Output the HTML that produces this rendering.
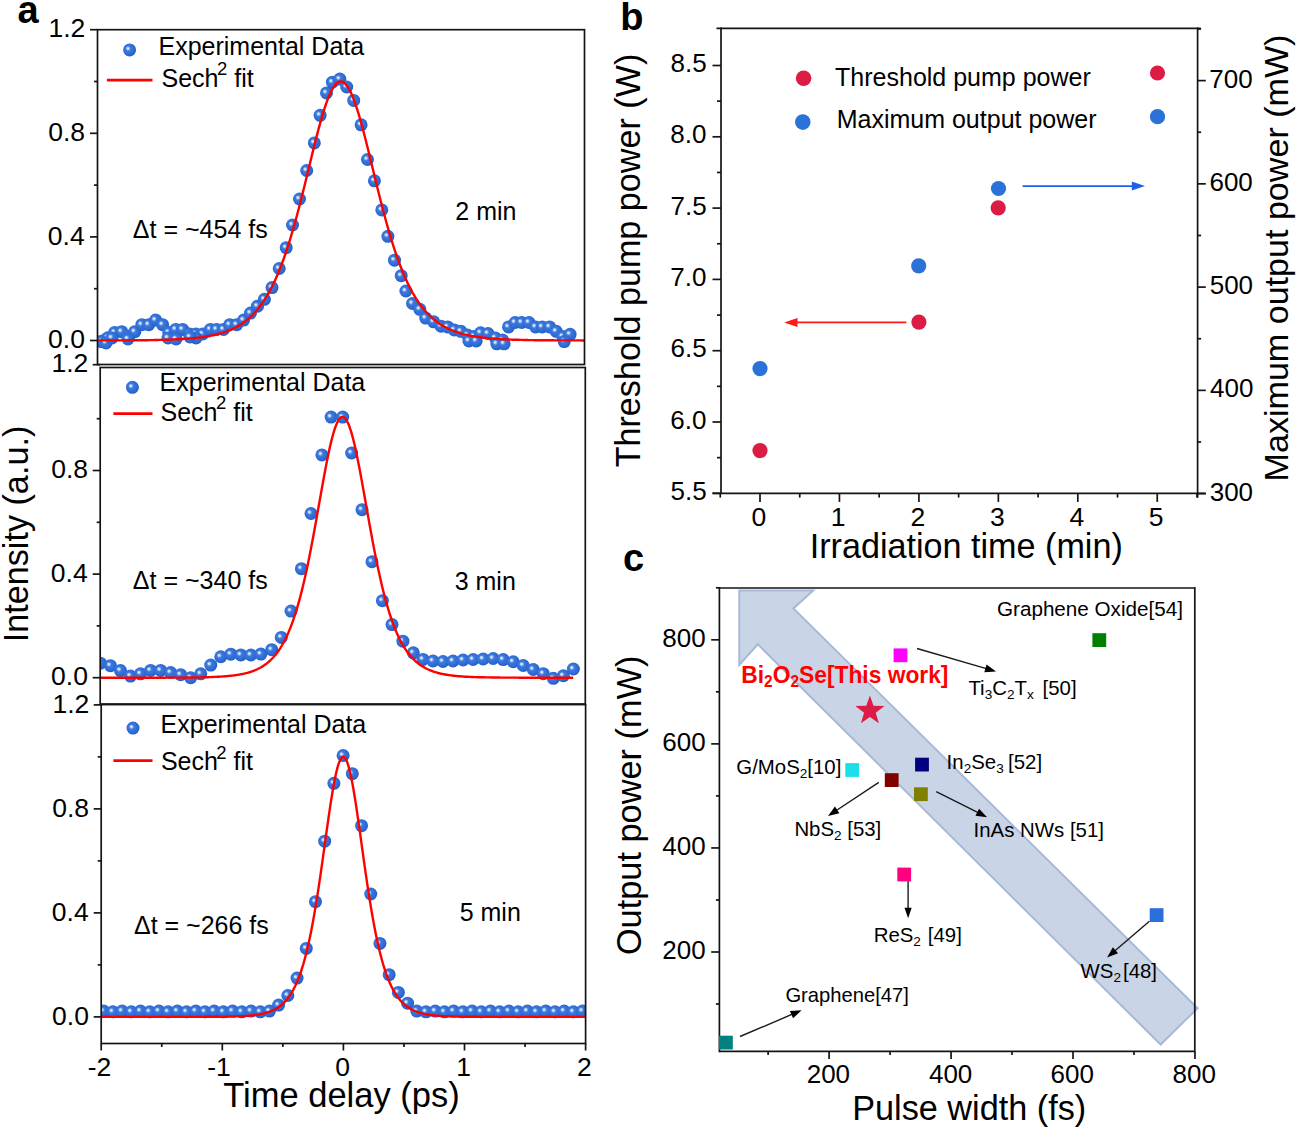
<!DOCTYPE html>
<html><head><meta charset="utf-8"><style>
html,body{margin:0;padding:0;background:#fff;width:1296px;height:1127px;overflow:hidden;}
svg{display:block;}
text{font-family:"Liberation Sans", sans-serif;}
</style></head><body>
<svg width="1296" height="1127" viewBox="0 0 1296 1127" font-family='"Liberation Sans", sans-serif'>
<defs><radialGradient id="bg" cx="0.45" cy="0.45" r="0.6" fx="0.36" fy="0.38"><stop offset="0" stop-color="#f4f8ff"/><stop offset="0.12" stop-color="#c4d8f6"/><stop offset="0.32" stop-color="#3d7ade"/><stop offset="0.75" stop-color="#2b68d2"/><stop offset="1" stop-color="#1f58c4"/></radialGradient><g id="ball"><circle cx="0" cy="0" r="6.5" fill="url(#bg)"/></g></defs>
<rect width="1296" height="1127" fill="#fff"/>
<clipPath id="clipa0"><rect x="97.5" y="29.7" width="487.0" height="334.8"/></clipPath>
<g clip-path="url(#clipa0)">
<use href="#ball" x="104.00" y="340.50"/>
<use href="#ball" x="107.80" y="337.80"/>
<use href="#ball" x="114.70" y="332.40"/>
<use href="#ball" x="121.70" y="331.70"/>
<use href="#ball" x="128.60" y="336.30"/>
<use href="#ball" x="134.80" y="331.70"/>
<use href="#ball" x="141.80" y="324.70"/>
<use href="#ball" x="148.70" y="324.70"/>
<use href="#ball" x="155.60" y="320.10"/>
<use href="#ball" x="162.60" y="324.70"/>
<use href="#ball" x="168.80" y="332.40"/>
<use href="#ball" x="175.70" y="329.40"/>
<use href="#ball" x="182.60" y="329.40"/>
<use href="#ball" x="189.60" y="334.00"/>
<use href="#ball" x="195.80" y="334.00"/>
<use href="#ball" x="202.70" y="334.00"/>
<use href="#ball" x="210.40" y="329.40"/>
<use href="#ball" x="216.60" y="329.40"/>
<use href="#ball" x="223.50" y="329.40"/>
<use href="#ball" x="229.70" y="324.70"/>
<use href="#ball" x="236.70" y="324.70"/>
<use href="#ball" x="243.60" y="320.10"/>
<use href="#ball" x="250.50" y="313.10"/>
<use href="#ball" x="257.50" y="306.20"/>
<use href="#ball" x="264.40" y="299.30"/>
<use href="#ball" x="272.00" y="287.60"/>
<use href="#ball" x="279.20" y="268.50"/>
<use href="#ball" x="286.20" y="247.70"/>
<use href="#ball" x="292.50" y="225.00"/>
<use href="#ball" x="299.50" y="199.00"/>
<use href="#ball" x="306.70" y="170.50"/>
<use href="#ball" x="314.30" y="142.90"/>
<use href="#ball" x="320.10" y="115.30"/>
<use href="#ball" x="326.50" y="92.90"/>
<use href="#ball" x="332.40" y="82.20"/>
<use href="#ball" x="339.80" y="79.10"/>
<use href="#ball" x="346.70" y="87.00"/>
<use href="#ball" x="353.70" y="100.40"/>
<use href="#ball" x="361.10" y="124.80"/>
<use href="#ball" x="367.50" y="159.50"/>
<use href="#ball" x="374.40" y="180.80"/>
<use href="#ball" x="381.80" y="209.90"/>
<use href="#ball" x="387.90" y="236.30"/>
<use href="#ball" x="394.50" y="260.20"/>
<use href="#ball" x="401.20" y="275.70"/>
<use href="#ball" x="405.90" y="291.00"/>
<use href="#ball" x="412.50" y="303.50"/>
<use href="#ball" x="419.80" y="309.30"/>
<use href="#ball" x="425.70" y="318.10"/>
<use href="#ball" x="433.70" y="321.80"/>
<use href="#ball" x="441.10" y="326.20"/>
<use href="#ball" x="447.70" y="326.90"/>
<use href="#ball" x="454.30" y="329.90"/>
<use href="#ball" x="460.90" y="331.30"/>
<use href="#ball" x="467.40" y="335.00"/>
<use href="#ball" x="474.00" y="336.50"/>
<use href="#ball" x="480.60" y="332.80"/>
<use href="#ball" x="488.00" y="333.50"/>
<use href="#ball" x="495.30" y="337.90"/>
<use href="#ball" x="502.60" y="340.10"/>
<use href="#ball" x="508.50" y="326.90"/>
<use href="#ball" x="515.10" y="322.50"/>
<use href="#ball" x="521.70" y="322.50"/>
<use href="#ball" x="529.00" y="322.50"/>
<use href="#ball" x="535.60" y="326.90"/>
<use href="#ball" x="542.20" y="326.90"/>
<use href="#ball" x="549.60" y="326.90"/>
<use href="#ball" x="556.20" y="331.30"/>
<use href="#ball" x="562.80" y="336.50"/>
<use href="#ball" x="570.10" y="334.30"/>
<use href="#ball" x="101.00" y="341.50"/>
<use href="#ball" x="106.00" y="343.00"/>
<use href="#ball" x="128.00" y="339.00"/>
<use href="#ball" x="168.00" y="338.00"/>
<use href="#ball" x="176.00" y="339.00"/>
<use href="#ball" x="196.00" y="338.00"/>
<use href="#ball" x="468.90" y="340.90"/>
<use href="#ball" x="476.20" y="340.90"/>
<use href="#ball" x="496.80" y="343.80"/>
<use href="#ball" x="504.10" y="343.80"/>
<use href="#ball" x="564.20" y="341.60"/>
<use href="#ball" x="112.00" y="338.00"/>
<use href="#ball" x="190.00" y="337.00"/>
<path d="M97.5,340.5 L98.5,340.5 L99.5,340.5 L100.5,340.5 L101.5,340.4 L102.5,340.4 L103.5,340.4 L104.5,340.4 L105.5,340.4 L106.5,340.4 L107.5,340.4 L108.5,340.4 L109.5,340.4 L110.5,340.4 L111.5,340.4 L112.5,340.4 L113.5,340.4 L114.5,340.4 L115.5,340.4 L116.5,340.4 L117.5,340.4 L118.5,340.4 L119.5,340.4 L120.5,340.4 L121.5,340.4 L122.5,340.4 L123.5,340.4 L124.5,340.4 L125.5,340.4 L126.5,340.4 L127.5,340.3 L128.5,340.3 L129.5,340.3 L130.5,340.3 L131.5,340.3 L132.5,340.3 L133.5,340.3 L134.5,340.3 L135.5,340.3 L136.5,340.3 L137.5,340.3 L138.5,340.3 L139.5,340.2 L140.5,340.2 L141.5,340.2 L142.5,340.2 L143.5,340.2 L144.5,340.2 L145.5,340.2 L146.5,340.2 L147.5,340.2 L148.5,340.1 L149.5,340.1 L150.5,340.1 L151.5,340.1 L152.5,340.1 L153.5,340.1 L154.5,340.0 L155.5,340.0 L156.5,340.0 L157.5,340.0 L158.5,339.9 L159.5,339.9 L160.5,339.9 L161.5,339.9 L162.5,339.9 L163.5,339.8 L164.5,339.8 L165.5,339.8 L166.5,339.7 L167.5,339.7 L168.5,339.7 L169.5,339.6 L170.5,339.6 L171.5,339.6 L172.5,339.5 L173.5,339.5 L174.5,339.4 L175.5,339.4 L176.5,339.3 L177.5,339.3 L178.5,339.2 L179.5,339.2 L180.5,339.1 L181.5,339.1 L182.5,339.0 L183.5,339.0 L184.5,338.9 L185.5,338.8 L186.5,338.8 L187.5,338.7 L188.5,338.6 L189.5,338.5 L190.5,338.4 L191.5,338.4 L192.5,338.3 L193.5,338.2 L194.5,338.1 L195.5,338.0 L196.5,337.9 L197.5,337.7 L198.5,337.6 L199.5,337.5 L200.5,337.4 L201.5,337.3 L202.5,337.1 L203.5,337.0 L204.5,336.8 L205.5,336.7 L206.5,336.5 L207.5,336.3 L208.5,336.2 L209.5,336.0 L210.5,335.8 L211.5,335.6 L212.5,335.4 L213.5,335.2 L214.5,335.0 L215.5,334.7 L216.5,334.5 L217.5,334.2 L218.5,334.0 L219.5,333.7 L220.5,333.4 L221.5,333.1 L222.5,332.8 L223.5,332.5 L224.5,332.2 L225.5,331.8 L226.5,331.5 L227.5,331.1 L228.5,330.7 L229.5,330.3 L230.5,329.9 L231.5,329.4 L232.5,329.0 L233.5,328.5 L234.5,328.0 L235.5,327.5 L236.5,327.0 L237.5,326.4 L238.5,325.8 L239.5,325.2 L240.5,324.6 L241.5,324.0 L242.5,323.3 L243.5,322.6 L244.5,321.9 L245.5,321.1 L246.5,320.3 L247.5,319.5 L248.5,318.6 L249.5,317.8 L250.5,316.8 L251.5,315.9 L252.5,314.9 L253.5,313.9 L254.5,312.8 L255.5,311.7 L256.5,310.6 L257.5,309.4 L258.5,308.2 L259.5,306.9 L260.5,305.6 L261.5,304.2 L262.5,302.8 L263.5,301.3 L264.5,299.8 L265.5,298.2 L266.5,296.6 L267.5,294.9 L268.5,293.2 L269.5,291.4 L270.5,289.5 L271.5,287.6 L272.5,285.6 L273.5,283.5 L274.5,281.4 L275.5,279.3 L276.5,277.0 L277.5,274.7 L278.5,272.3 L279.5,269.8 L280.5,267.3 L281.5,264.7 L282.5,262.0 L283.5,259.3 L284.5,256.5 L285.5,253.6 L286.5,250.6 L287.5,247.6 L288.5,244.4 L289.5,241.3 L290.5,238.0 L291.5,234.7 L292.5,231.3 L293.5,227.8 L294.5,224.3 L295.5,220.7 L296.5,217.0 L297.5,213.3 L298.5,209.5 L299.5,205.6 L300.5,201.8 L301.5,197.8 L302.5,193.8 L303.5,189.8 L304.5,185.8 L305.5,181.7 L306.5,177.6 L307.5,173.5 L308.5,169.4 L309.5,165.2 L310.5,161.1 L311.5,157.0 L312.5,152.9 L313.5,148.9 L314.5,144.8 L315.5,140.9 L316.5,136.9 L317.5,133.1 L318.5,129.3 L319.5,125.6 L320.5,121.9 L321.5,118.4 L322.5,115.0 L323.5,111.7 L324.5,108.5 L325.5,105.5 L326.5,102.6 L327.5,99.9 L328.5,97.3 L329.5,94.9 L330.5,92.7 L331.5,90.7 L332.5,88.8 L333.5,87.2 L334.5,85.7 L335.5,84.5 L336.5,83.4 L337.5,82.6 L338.5,82.0 L339.5,81.7 L340.5,81.5 L341.5,81.6 L342.5,81.9 L343.5,82.4 L344.5,83.1 L345.5,84.0 L346.5,85.2 L347.5,86.6 L348.5,88.1 L349.5,89.9 L350.5,91.9 L351.5,94.0 L352.5,96.3 L353.5,98.8 L354.5,101.5 L355.5,104.3 L356.5,107.3 L357.5,110.4 L358.5,113.7 L359.5,117.0 L360.5,120.5 L361.5,124.1 L362.5,127.8 L363.5,131.5 L364.5,135.4 L365.5,139.3 L366.5,143.2 L367.5,147.3 L368.5,151.3 L369.5,155.4 L370.5,159.5 L371.5,163.6 L372.5,167.7 L373.5,171.8 L374.5,176.0 L375.5,180.1 L376.5,184.1 L377.5,188.2 L378.5,192.2 L379.5,196.2 L380.5,200.2 L381.5,204.1 L382.5,207.9 L383.5,211.8 L384.5,215.5 L385.5,219.2 L386.5,222.8 L387.5,226.4 L388.5,229.9 L389.5,233.3 L390.5,236.7 L391.5,240.0 L392.5,243.2 L393.5,246.3 L394.5,249.4 L395.5,252.4 L396.5,255.3 L397.5,258.2 L398.5,260.9 L399.5,263.7 L400.5,266.3 L401.5,268.8 L402.5,271.3 L403.5,273.7 L404.5,276.1 L405.5,278.4 L406.5,280.6 L407.5,282.7 L408.5,284.8 L409.5,286.8 L410.5,288.7 L411.5,290.6 L412.5,292.5 L413.5,294.2 L414.5,295.9 L415.5,297.6 L416.5,299.2 L417.5,300.7 L418.5,302.2 L419.5,303.6 L420.5,305.0 L421.5,306.4 L422.5,307.7 L423.5,308.9 L424.5,310.1 L425.5,311.3 L426.5,312.4 L427.5,313.5 L428.5,314.5 L429.5,315.5 L430.5,316.5 L431.5,317.4 L432.5,318.3 L433.5,319.2 L434.5,320.0 L435.5,320.8 L436.5,321.6 L437.5,322.3 L438.5,323.0 L439.5,323.7 L440.5,324.4 L441.5,325.0 L442.5,325.6 L443.5,326.2 L444.5,326.8 L445.5,327.3 L446.5,327.8 L447.5,328.3 L448.5,328.8 L449.5,329.3 L450.5,329.7 L451.5,330.1 L452.5,330.5 L453.5,330.9 L454.5,331.3 L455.5,331.7 L456.5,332.0 L457.5,332.4 L458.5,332.7 L459.5,333.0 L460.5,333.3 L461.5,333.6 L462.5,333.9 L463.5,334.1 L464.5,334.4 L465.5,334.6 L466.5,334.9 L467.5,335.1 L468.5,335.3 L469.5,335.5 L470.5,335.7 L471.5,335.9 L472.5,336.1 L473.5,336.3 L474.5,336.4 L475.5,336.6 L476.5,336.8 L477.5,336.9 L478.5,337.1 L479.5,337.2 L480.5,337.3 L481.5,337.5 L482.5,337.6 L483.5,337.7 L484.5,337.8 L485.5,337.9 L486.5,338.0 L487.5,338.1 L488.5,338.2 L489.5,338.3 L490.5,338.4 L491.5,338.5 L492.5,338.6 L493.5,338.6 L494.5,338.7 L495.5,338.8 L496.5,338.9 L497.5,338.9 L498.5,339.0 L499.5,339.1 L500.5,339.1 L501.5,339.2 L502.5,339.2 L503.5,339.3 L504.5,339.3 L505.5,339.4 L506.5,339.4 L507.5,339.5 L508.5,339.5 L509.5,339.5 L510.5,339.6 L511.5,339.6 L512.5,339.7 L513.5,339.7 L514.5,339.7 L515.5,339.8 L516.5,339.8 L517.5,339.8 L518.5,339.8 L519.5,339.9 L520.5,339.9 L521.5,339.9 L522.5,339.9 L523.5,340.0 L524.5,340.0 L525.5,340.0 L526.5,340.0 L527.5,340.0 L528.5,340.1 L529.5,340.1 L530.5,340.1 L531.5,340.1 L532.5,340.1 L533.5,340.1 L534.5,340.2 L535.5,340.2 L536.5,340.2 L537.5,340.2 L538.5,340.2 L539.5,340.2 L540.5,340.2 L541.5,340.2 L542.5,340.3 L543.5,340.3 L544.5,340.3 L545.5,340.3 L546.5,340.3 L547.5,340.3 L548.5,340.3 L549.5,340.3 L550.5,340.3 L551.5,340.3 L552.5,340.3 L553.5,340.3 L554.5,340.4 L555.5,340.4 L556.5,340.4 L557.5,340.4 L558.5,340.4 L559.5,340.4 L560.5,340.4 L561.5,340.4 L562.5,340.4 L563.5,340.4 L564.5,340.4 L565.5,340.4 L566.5,340.4 L567.5,340.4 L568.5,340.4 L569.5,340.4 L570.5,340.4 L571.5,340.4 L572.5,340.4 L573.5,340.4 L574.5,340.4 L575.5,340.4 L576.5,340.4 L577.5,340.4 L578.5,340.4 L579.5,340.4 L580.5,340.4 L581.5,340.5 L582.5,340.5 L583.5,340.5 L584.5,340.5" fill="none" stroke="#ff0000" stroke-width="2.4" stroke-linejoin="round"/>
</g>
<rect x="97.50" y="29.70" width="487.00" height="334.80" fill="none" stroke="#141414" stroke-width="1.7"/>
<line x1="90.00" y1="340.50" x2="97.50" y2="340.50" stroke="#141414" stroke-width="1.7" />
<text x="84.96" y="348.10" font-size="26.5" text-anchor="end" font-weight="normal" fill="#000" >0.0</text>
<line x1="94.00" y1="288.70" x2="97.50" y2="288.70" stroke="#141414" stroke-width="1.7" />
<line x1="90.00" y1="236.90" x2="97.50" y2="236.90" stroke="#141414" stroke-width="1.7" />
<text x="84.71" y="244.50" font-size="26.5" text-anchor="end" font-weight="normal" fill="#000" >0.4</text>
<line x1="94.00" y1="185.10" x2="97.50" y2="185.10" stroke="#141414" stroke-width="1.7" />
<line x1="90.00" y1="133.30" x2="97.50" y2="133.30" stroke="#141414" stroke-width="1.7" />
<text x="85.09" y="140.90" font-size="26.5" text-anchor="end" font-weight="normal" fill="#000" >0.8</text>
<line x1="94.00" y1="81.50" x2="97.50" y2="81.50" stroke="#141414" stroke-width="1.7" />
<line x1="90.00" y1="29.70" x2="97.50" y2="29.70" stroke="#141414" stroke-width="1.7" />
<text x="85.34" y="37.30" font-size="26.5" text-anchor="end" font-weight="normal" fill="#000" >1.2</text>
<clipPath id="clipa1"><rect x="100.2" y="367.5" width="485.09999999999997" height="336.5"/></clipPath>
<g clip-path="url(#clipa1)">
<use href="#ball" x="100.41" y="663.20"/>
<use href="#ball" x="110.44" y="665.67"/>
<use href="#ball" x="120.47" y="670.55"/>
<use href="#ball" x="130.50" y="676.05"/>
<use href="#ball" x="140.53" y="673.81"/>
<use href="#ball" x="150.56" y="670.44"/>
<use href="#ball" x="160.59" y="670.41"/>
<use href="#ball" x="170.62" y="672.61"/>
<use href="#ball" x="180.65" y="674.72"/>
<use href="#ball" x="190.68" y="677.74"/>
<use href="#ball" x="200.71" y="673.84"/>
<use href="#ball" x="210.74" y="665.07"/>
<use href="#ball" x="220.77" y="656.77"/>
<use href="#ball" x="230.80" y="654.19"/>
<use href="#ball" x="240.83" y="654.88"/>
<use href="#ball" x="250.86" y="655.00"/>
<use href="#ball" x="260.89" y="654.11"/>
<use href="#ball" x="271.70" y="649.70"/>
<use href="#ball" x="281.30" y="637.40"/>
<use href="#ball" x="291.00" y="611.10"/>
<use href="#ball" x="301.40" y="568.70"/>
<use href="#ball" x="311.00" y="513.50"/>
<use href="#ball" x="321.90" y="454.90"/>
<use href="#ball" x="331.10" y="417.10"/>
<use href="#ball" x="342.70" y="417.10"/>
<use href="#ball" x="351.60" y="453.00"/>
<use href="#ball" x="362.00" y="509.70"/>
<use href="#ball" x="372.00" y="561.70"/>
<use href="#ball" x="382.40" y="600.70"/>
<use href="#ball" x="392.00" y="624.60"/>
<use href="#ball" x="402.90" y="641.20"/>
<use href="#ball" x="413.30" y="652.80"/>
<use href="#ball" x="423.00" y="659.40"/>
<use href="#ball" x="432.97" y="661.00"/>
<use href="#ball" x="443.00" y="661.50"/>
<use href="#ball" x="453.03" y="661.00"/>
<use href="#ball" x="463.06" y="660.00"/>
<use href="#ball" x="473.09" y="659.50"/>
<use href="#ball" x="483.12" y="658.99"/>
<use href="#ball" x="493.15" y="658.51"/>
<use href="#ball" x="503.18" y="659.54"/>
<use href="#ball" x="513.21" y="661.75"/>
<use href="#ball" x="523.24" y="665.50"/>
<use href="#ball" x="533.27" y="669.52"/>
<use href="#ball" x="543.30" y="673.64"/>
<use href="#ball" x="553.33" y="678.29"/>
<use href="#ball" x="563.36" y="675.76"/>
<use href="#ball" x="573.39" y="669.01"/>
<path d="M100.2,677.7 L101.2,677.7 L102.2,677.7 L103.2,677.7 L104.2,677.7 L105.2,677.7 L106.2,677.7 L107.2,677.7 L108.2,677.7 L109.2,677.7 L110.2,677.7 L111.2,677.7 L112.2,677.7 L113.2,677.7 L114.2,677.7 L115.2,677.7 L116.2,677.7 L117.2,677.7 L118.2,677.7 L119.2,677.7 L120.2,677.7 L121.2,677.7 L122.2,677.7 L123.2,677.7 L124.2,677.7 L125.2,677.7 L126.2,677.7 L127.2,677.7 L128.2,677.7 L129.2,677.7 L130.2,677.7 L131.2,677.7 L132.2,677.7 L133.2,677.7 L134.2,677.7 L135.2,677.7 L136.2,677.7 L137.2,677.7 L138.2,677.7 L139.2,677.7 L140.2,677.7 L141.2,677.7 L142.2,677.7 L143.2,677.7 L144.2,677.7 L145.2,677.7 L146.2,677.7 L147.2,677.7 L148.2,677.7 L149.2,677.7 L150.2,677.7 L151.2,677.7 L152.2,677.7 L153.2,677.7 L154.2,677.7 L155.2,677.7 L156.2,677.7 L157.2,677.7 L158.2,677.7 L159.2,677.7 L160.2,677.7 L161.2,677.7 L162.2,677.7 L163.2,677.7 L164.2,677.7 L165.2,677.7 L166.2,677.6 L167.2,677.6 L168.2,677.6 L169.2,677.6 L170.2,677.6 L171.2,677.6 L172.2,677.6 L173.2,677.6 L174.2,677.6 L175.2,677.6 L176.2,677.6 L177.2,677.6 L178.2,677.6 L179.2,677.6 L180.2,677.6 L181.2,677.6 L182.2,677.6 L183.2,677.6 L184.2,677.6 L185.2,677.6 L186.2,677.5 L187.2,677.5 L188.2,677.5 L189.2,677.5 L190.2,677.5 L191.2,677.5 L192.2,677.5 L193.2,677.5 L194.2,677.5 L195.2,677.4 L196.2,677.4 L197.2,677.4 L198.2,677.4 L199.2,677.4 L200.2,677.4 L201.2,677.3 L202.2,677.3 L203.2,677.3 L204.2,677.3 L205.2,677.2 L206.2,677.2 L207.2,677.2 L208.2,677.2 L209.2,677.1 L210.2,677.1 L211.2,677.1 L212.2,677.0 L213.2,677.0 L214.2,676.9 L215.2,676.9 L216.2,676.9 L217.2,676.8 L218.2,676.8 L219.2,676.7 L220.2,676.6 L221.2,676.6 L222.2,676.5 L223.2,676.4 L224.2,676.4 L225.2,676.3 L226.2,676.2 L227.2,676.1 L228.2,676.0 L229.2,675.9 L230.2,675.8 L231.2,675.7 L232.2,675.6 L233.2,675.5 L234.2,675.4 L235.2,675.2 L236.2,675.1 L237.2,674.9 L238.2,674.8 L239.2,674.6 L240.2,674.4 L241.2,674.2 L242.2,674.1 L243.2,673.8 L244.2,673.6 L245.2,673.4 L246.2,673.1 L247.2,672.9 L248.2,672.6 L249.2,672.3 L250.2,672.0 L251.2,671.7 L252.2,671.3 L253.2,671.0 L254.2,670.6 L255.2,670.2 L256.2,669.7 L257.2,669.3 L258.2,668.8 L259.2,668.3 L260.2,667.8 L261.2,667.2 L262.2,666.6 L263.2,666.0 L264.2,665.3 L265.2,664.6 L266.2,663.9 L267.2,663.1 L268.2,662.3 L269.2,661.4 L270.2,660.5 L271.2,659.5 L272.2,658.5 L273.2,657.5 L274.2,656.3 L275.2,655.2 L276.2,653.9 L277.2,652.6 L278.2,651.2 L279.2,649.8 L280.2,648.3 L281.2,646.7 L282.2,645.0 L283.2,643.2 L284.2,641.3 L285.2,639.4 L286.2,637.4 L287.2,635.2 L288.2,633.0 L289.2,630.6 L290.2,628.2 L291.2,625.6 L292.2,622.9 L293.2,620.1 L294.2,617.2 L295.2,614.2 L296.2,611.0 L297.2,607.7 L298.2,604.2 L299.2,600.7 L300.2,597.0 L301.2,593.1 L302.2,589.1 L303.2,585.0 L304.2,580.7 L305.2,576.3 L306.2,571.8 L307.2,567.2 L308.2,562.4 L309.2,557.5 L310.2,552.4 L311.2,547.3 L312.2,542.0 L313.2,536.7 L314.2,531.3 L315.2,525.8 L316.2,520.2 L317.2,514.6 L318.2,509.0 L319.2,503.3 L320.2,497.7 L321.2,492.1 L322.2,486.5 L323.2,480.9 L324.2,475.5 L325.2,470.2 L326.2,464.9 L327.2,459.9 L328.2,455.0 L329.2,450.3 L330.2,445.8 L331.2,441.6 L332.2,437.7 L333.2,434.0 L334.2,430.6 L335.2,427.6 L336.2,424.9 L337.2,422.6 L338.2,420.7 L339.2,419.1 L340.2,418.0 L341.2,417.2 L342.2,416.9 L343.2,417.0 L344.2,417.5 L345.2,418.4 L346.2,419.7 L347.2,421.4 L348.2,423.5 L349.2,426.0 L350.2,428.8 L351.2,431.9 L352.2,435.4 L353.2,439.2 L354.2,443.3 L355.2,447.6 L356.2,452.2 L357.2,456.9 L358.2,461.9 L359.2,467.0 L360.2,472.3 L361.2,477.7 L362.2,483.1 L363.2,488.7 L364.2,494.3 L365.2,500.0 L366.2,505.6 L367.2,511.3 L368.2,516.9 L369.2,522.5 L370.2,528.0 L371.2,533.5 L372.2,538.9 L373.2,544.2 L374.2,549.4 L375.2,554.5 L376.2,559.4 L377.2,564.3 L378.2,569.0 L379.2,573.6 L380.2,578.1 L381.2,582.5 L382.2,586.7 L383.2,590.7 L384.2,594.7 L385.2,598.5 L386.2,602.1 L387.2,605.6 L388.2,609.0 L389.2,612.3 L390.2,615.4 L391.2,618.4 L392.2,621.3 L393.2,624.0 L394.2,626.7 L395.2,629.2 L396.2,631.6 L397.2,633.9 L398.2,636.1 L399.2,638.2 L400.2,640.2 L401.2,642.1 L402.2,643.9 L403.2,645.7 L404.2,647.3 L405.2,648.9 L406.2,650.4 L407.2,651.8 L408.2,653.1 L409.2,654.4 L410.2,655.6 L411.2,656.8 L412.2,657.9 L413.2,658.9 L414.2,659.9 L415.2,660.9 L416.2,661.8 L417.2,662.6 L418.2,663.4 L419.2,664.2 L420.2,664.9 L421.2,665.6 L422.2,666.2 L423.2,666.8 L424.2,667.4 L425.2,668.0 L426.2,668.5 L427.2,669.0 L428.2,669.5 L429.2,669.9 L430.2,670.3 L431.2,670.7 L432.2,671.1 L433.2,671.5 L434.2,671.8 L435.2,672.1 L436.2,672.4 L437.2,672.7 L438.2,673.0 L439.2,673.2 L440.2,673.5 L441.2,673.7 L442.2,673.9 L443.2,674.1 L444.2,674.3 L445.2,674.5 L446.2,674.7 L447.2,674.8 L448.2,675.0 L449.2,675.1 L450.2,675.3 L451.2,675.4 L452.2,675.5 L453.2,675.7 L454.2,675.8 L455.2,675.9 L456.2,676.0 L457.2,676.1 L458.2,676.2 L459.2,676.2 L460.2,676.3 L461.2,676.4 L462.2,676.5 L463.2,676.5 L464.2,676.6 L465.2,676.7 L466.2,676.7 L467.2,676.8 L468.2,676.8 L469.2,676.9 L470.2,676.9 L471.2,677.0 L472.2,677.0 L473.2,677.0 L474.2,677.1 L475.2,677.1 L476.2,677.1 L477.2,677.2 L478.2,677.2 L479.2,677.2 L480.2,677.3 L481.2,677.3 L482.2,677.3 L483.2,677.3 L484.2,677.3 L485.2,677.4 L486.2,677.4 L487.2,677.4 L488.2,677.4 L489.2,677.4 L490.2,677.4 L491.2,677.5 L492.2,677.5 L493.2,677.5 L494.2,677.5 L495.2,677.5 L496.2,677.5 L497.2,677.5 L498.2,677.5 L499.2,677.5 L500.2,677.6 L501.2,677.6 L502.2,677.6 L503.2,677.6 L504.2,677.6 L505.2,677.6 L506.2,677.6 L507.2,677.6 L508.2,677.6 L509.2,677.6 L510.2,677.6 L511.2,677.6 L512.2,677.6 L513.2,677.6 L514.2,677.6 L515.2,677.6 L516.2,677.6 L517.2,677.6 L518.2,677.6 L519.2,677.7 L520.2,677.7 L521.2,677.7 L522.2,677.7 L523.2,677.7 L524.2,677.7 L525.2,677.7 L526.2,677.7 L527.2,677.7 L528.2,677.7 L529.2,677.7 L530.2,677.7 L531.2,677.7 L532.2,677.7 L533.2,677.7 L534.2,677.7 L535.2,677.7 L536.2,677.7 L537.2,677.7 L538.2,677.7 L539.2,677.7 L540.2,677.7 L541.2,677.7 L542.2,677.7 L543.2,677.7 L544.2,677.7 L545.2,677.7 L546.2,677.7 L547.2,677.7 L548.2,677.7 L549.2,677.7 L550.2,677.7 L551.2,677.7 L552.2,677.7 L553.2,677.7 L554.2,677.7 L555.2,677.7 L556.2,677.7 L557.2,677.7 L558.2,677.7 L559.2,677.7 L560.2,677.7 L561.2,677.7 L562.2,677.7 L563.2,677.7 L564.2,677.7 L565.2,677.7 L566.2,677.7 L567.2,677.7 L568.2,677.7 L569.2,677.7 L570.2,677.7 L571.2,677.7 L572.2,677.7 L573.2,677.7" fill="none" stroke="#ff0000" stroke-width="2.4" stroke-linejoin="round"/>
</g>
<rect x="100.20" y="367.50" width="485.10" height="336.50" fill="none" stroke="#141414" stroke-width="1.7"/>
<line x1="92.70" y1="677.70" x2="100.20" y2="677.70" stroke="#141414" stroke-width="1.7" />
<text x="87.96" y="685.30" font-size="26.5" text-anchor="end" font-weight="normal" fill="#000" >0.0</text>
<line x1="96.70" y1="625.90" x2="100.20" y2="625.90" stroke="#141414" stroke-width="1.7" />
<line x1="92.70" y1="574.10" x2="100.20" y2="574.10" stroke="#141414" stroke-width="1.7" />
<text x="87.71" y="581.70" font-size="26.5" text-anchor="end" font-weight="normal" fill="#000" >0.4</text>
<line x1="96.70" y1="522.30" x2="100.20" y2="522.30" stroke="#141414" stroke-width="1.7" />
<line x1="92.70" y1="470.50" x2="100.20" y2="470.50" stroke="#141414" stroke-width="1.7" />
<text x="88.09" y="478.10" font-size="26.5" text-anchor="end" font-weight="normal" fill="#000" >0.8</text>
<line x1="96.70" y1="418.70" x2="100.20" y2="418.70" stroke="#141414" stroke-width="1.7" />
<line x1="92.70" y1="364.70" x2="100.20" y2="364.70" stroke="#141414" stroke-width="1.7" />
<text x="88.34" y="372.30" font-size="26.5" text-anchor="end" font-weight="normal" fill="#000" >1.2</text>
<clipPath id="clipa2"><rect x="101.2" y="704.6" width="484.40000000000003" height="338.9"/></clipPath>
<g clip-path="url(#clipa2)">
<use href="#ball" x="103.64" y="1011.10"/>
<use href="#ball" x="112.85" y="1011.80"/>
<use href="#ball" x="122.06" y="1011.10"/>
<use href="#ball" x="131.27" y="1011.80"/>
<use href="#ball" x="140.48" y="1011.10"/>
<use href="#ball" x="149.69" y="1011.80"/>
<use href="#ball" x="158.90" y="1011.10"/>
<use href="#ball" x="168.11" y="1011.80"/>
<use href="#ball" x="177.32" y="1011.10"/>
<use href="#ball" x="186.53" y="1011.80"/>
<use href="#ball" x="195.74" y="1011.10"/>
<use href="#ball" x="204.95" y="1011.80"/>
<use href="#ball" x="214.16" y="1011.10"/>
<use href="#ball" x="223.37" y="1011.80"/>
<use href="#ball" x="232.58" y="1011.10"/>
<use href="#ball" x="241.79" y="1011.80"/>
<use href="#ball" x="251.00" y="1011.10"/>
<use href="#ball" x="260.21" y="1011.80"/>
<use href="#ball" x="269.42" y="1011.10"/>
<use href="#ball" x="278.63" y="1005.10"/>
<use href="#ball" x="287.84" y="995.50"/>
<use href="#ball" x="297.05" y="978.10"/>
<use href="#ball" x="306.26" y="948.40"/>
<use href="#ball" x="315.47" y="901.70"/>
<use href="#ball" x="324.68" y="841.20"/>
<use href="#ball" x="333.89" y="783.30"/>
<use href="#ball" x="343.10" y="755.50"/>
<use href="#ball" x="352.31" y="773.70"/>
<use href="#ball" x="361.52" y="825.70"/>
<use href="#ball" x="370.73" y="894.00"/>
<use href="#ball" x="379.94" y="943.40"/>
<use href="#ball" x="389.15" y="974.70"/>
<use href="#ball" x="398.36" y="992.40"/>
<use href="#ball" x="407.57" y="1003.20"/>
<use href="#ball" x="416.78" y="1011.10"/>
<use href="#ball" x="425.99" y="1011.80"/>
<use href="#ball" x="435.20" y="1011.10"/>
<use href="#ball" x="444.41" y="1011.80"/>
<use href="#ball" x="453.62" y="1011.10"/>
<use href="#ball" x="462.83" y="1011.80"/>
<use href="#ball" x="472.04" y="1011.10"/>
<use href="#ball" x="481.25" y="1011.80"/>
<use href="#ball" x="490.46" y="1011.10"/>
<use href="#ball" x="499.67" y="1011.80"/>
<use href="#ball" x="508.88" y="1011.10"/>
<use href="#ball" x="518.09" y="1011.80"/>
<use href="#ball" x="527.30" y="1011.10"/>
<use href="#ball" x="536.51" y="1011.80"/>
<use href="#ball" x="545.72" y="1011.10"/>
<use href="#ball" x="554.93" y="1011.80"/>
<use href="#ball" x="564.14" y="1011.10"/>
<use href="#ball" x="573.35" y="1011.80"/>
<use href="#ball" x="582.56" y="1011.10"/>
<path d="M101.2,1016.9 L102.2,1016.9 L103.2,1016.9 L104.2,1016.9 L105.2,1016.9 L106.2,1016.9 L107.2,1016.9 L108.2,1016.9 L109.2,1016.9 L110.2,1016.9 L111.2,1016.9 L112.2,1016.9 L113.2,1016.9 L114.2,1016.9 L115.2,1016.9 L116.2,1016.9 L117.2,1016.9 L118.2,1016.9 L119.2,1016.9 L120.2,1016.9 L121.2,1016.9 L122.2,1016.9 L123.2,1016.9 L124.2,1016.9 L125.2,1016.9 L126.2,1016.9 L127.2,1016.9 L128.2,1016.9 L129.2,1016.9 L130.2,1016.9 L131.2,1016.9 L132.2,1016.9 L133.2,1016.9 L134.2,1016.9 L135.2,1016.9 L136.2,1016.9 L137.2,1016.9 L138.2,1016.9 L139.2,1016.9 L140.2,1016.9 L141.2,1016.9 L142.2,1016.9 L143.2,1016.9 L144.2,1016.9 L145.2,1016.9 L146.2,1016.9 L147.2,1016.9 L148.2,1016.9 L149.2,1016.9 L150.2,1016.9 L151.2,1016.9 L152.2,1016.9 L153.2,1016.9 L154.2,1016.9 L155.2,1016.9 L156.2,1016.9 L157.2,1016.9 L158.2,1016.9 L159.2,1016.9 L160.2,1016.9 L161.2,1016.9 L162.2,1016.9 L163.2,1016.9 L164.2,1016.9 L165.2,1016.9 L166.2,1016.9 L167.2,1016.9 L168.2,1016.9 L169.2,1016.9 L170.2,1016.9 L171.2,1016.9 L172.2,1016.9 L173.2,1016.9 L174.2,1016.9 L175.2,1016.9 L176.2,1016.9 L177.2,1016.9 L178.2,1016.9 L179.2,1016.9 L180.2,1016.9 L181.2,1016.9 L182.2,1016.9 L183.2,1016.9 L184.2,1016.9 L185.2,1016.9 L186.2,1016.9 L187.2,1016.9 L188.2,1016.9 L189.2,1016.9 L190.2,1016.9 L191.2,1016.9 L192.2,1016.9 L193.2,1016.9 L194.2,1016.9 L195.2,1016.9 L196.2,1016.9 L197.2,1016.9 L198.2,1016.9 L199.2,1016.9 L200.2,1016.9 L201.2,1016.9 L202.2,1016.9 L203.2,1016.9 L204.2,1016.9 L205.2,1016.8 L206.2,1016.8 L207.2,1016.8 L208.2,1016.8 L209.2,1016.8 L210.2,1016.8 L211.2,1016.8 L212.2,1016.8 L213.2,1016.8 L214.2,1016.8 L215.2,1016.8 L216.2,1016.8 L217.2,1016.8 L218.2,1016.8 L219.2,1016.8 L220.2,1016.8 L221.2,1016.7 L222.2,1016.7 L223.2,1016.7 L224.2,1016.7 L225.2,1016.7 L226.2,1016.7 L227.2,1016.7 L228.2,1016.6 L229.2,1016.6 L230.2,1016.6 L231.2,1016.6 L232.2,1016.5 L233.2,1016.5 L234.2,1016.5 L235.2,1016.5 L236.2,1016.4 L237.2,1016.4 L238.2,1016.4 L239.2,1016.3 L240.2,1016.3 L241.2,1016.2 L242.2,1016.2 L243.2,1016.1 L244.2,1016.1 L245.2,1016.0 L246.2,1015.9 L247.2,1015.9 L248.2,1015.8 L249.2,1015.7 L250.2,1015.6 L251.2,1015.5 L252.2,1015.4 L253.2,1015.3 L254.2,1015.2 L255.2,1015.1 L256.2,1014.9 L257.2,1014.8 L258.2,1014.6 L259.2,1014.4 L260.2,1014.3 L261.2,1014.1 L262.2,1013.9 L263.2,1013.6 L264.2,1013.4 L265.2,1013.1 L266.2,1012.8 L267.2,1012.5 L268.2,1012.2 L269.2,1011.9 L270.2,1011.5 L271.2,1011.1 L272.2,1010.7 L273.2,1010.2 L274.2,1009.7 L275.2,1009.2 L276.2,1008.6 L277.2,1008.0 L278.2,1007.4 L279.2,1006.7 L280.2,1006.0 L281.2,1005.2 L282.2,1004.3 L283.2,1003.4 L284.2,1002.4 L285.2,1001.4 L286.2,1000.2 L287.2,999.0 L288.2,997.8 L289.2,996.4 L290.2,994.9 L291.2,993.4 L292.2,991.7 L293.2,989.9 L294.2,988.0 L295.2,986.0 L296.2,983.8 L297.2,981.5 L298.2,979.1 L299.2,976.5 L300.2,973.8 L301.2,970.8 L302.2,967.7 L303.2,964.5 L304.2,961.0 L305.2,957.3 L306.2,953.5 L307.2,949.4 L308.2,945.1 L309.2,940.6 L310.2,935.9 L311.2,930.9 L312.2,925.8 L313.2,920.4 L314.2,914.7 L315.2,908.9 L316.2,902.9 L317.2,896.6 L318.2,890.2 L319.2,883.6 L320.2,876.8 L321.2,869.9 L322.2,862.9 L323.2,855.7 L324.2,848.6 L325.2,841.4 L326.2,834.2 L327.2,827.1 L328.2,820.0 L329.2,813.1 L330.2,806.4 L331.2,799.9 L332.2,793.7 L333.2,787.8 L334.2,782.4 L335.2,777.3 L336.2,772.7 L337.2,768.6 L338.2,765.1 L339.2,762.2 L340.2,759.9 L341.2,758.2 L342.2,757.2 L343.2,756.9 L344.2,757.2 L345.2,758.2 L346.2,759.9 L347.2,762.2 L348.2,765.1 L349.2,768.6 L350.2,772.7 L351.2,777.3 L352.2,782.4 L353.2,787.8 L354.2,793.7 L355.2,799.9 L356.2,806.4 L357.2,813.1 L358.2,820.0 L359.2,827.1 L360.2,834.2 L361.2,841.4 L362.2,848.6 L363.2,855.7 L364.2,862.9 L365.2,869.9 L366.2,876.8 L367.2,883.6 L368.2,890.2 L369.2,896.6 L370.2,902.9 L371.2,908.9 L372.2,914.7 L373.2,920.4 L374.2,925.8 L375.2,930.9 L376.2,935.9 L377.2,940.6 L378.2,945.1 L379.2,949.4 L380.2,953.5 L381.2,957.3 L382.2,961.0 L383.2,964.5 L384.2,967.7 L385.2,970.8 L386.2,973.8 L387.2,976.5 L388.2,979.1 L389.2,981.5 L390.2,983.8 L391.2,986.0 L392.2,988.0 L393.2,989.9 L394.2,991.7 L395.2,993.4 L396.2,994.9 L397.2,996.4 L398.2,997.8 L399.2,999.0 L400.2,1000.2 L401.2,1001.4 L402.2,1002.4 L403.2,1003.4 L404.2,1004.3 L405.2,1005.2 L406.2,1006.0 L407.2,1006.7 L408.2,1007.4 L409.2,1008.0 L410.2,1008.6 L411.2,1009.2 L412.2,1009.7 L413.2,1010.2 L414.2,1010.7 L415.2,1011.1 L416.2,1011.5 L417.2,1011.9 L418.2,1012.2 L419.2,1012.5 L420.2,1012.8 L421.2,1013.1 L422.2,1013.4 L423.2,1013.6 L424.2,1013.9 L425.2,1014.1 L426.2,1014.3 L427.2,1014.4 L428.2,1014.6 L429.2,1014.8 L430.2,1014.9 L431.2,1015.1 L432.2,1015.2 L433.2,1015.3 L434.2,1015.4 L435.2,1015.5 L436.2,1015.6 L437.2,1015.7 L438.2,1015.8 L439.2,1015.9 L440.2,1015.9 L441.2,1016.0 L442.2,1016.1 L443.2,1016.1 L444.2,1016.2 L445.2,1016.2 L446.2,1016.3 L447.2,1016.3 L448.2,1016.4 L449.2,1016.4 L450.2,1016.4 L451.2,1016.5 L452.2,1016.5 L453.2,1016.5 L454.2,1016.5 L455.2,1016.6 L456.2,1016.6 L457.2,1016.6 L458.2,1016.6 L459.2,1016.7 L460.2,1016.7 L461.2,1016.7 L462.2,1016.7 L463.2,1016.7 L464.2,1016.7 L465.2,1016.7 L466.2,1016.8 L467.2,1016.8 L468.2,1016.8 L469.2,1016.8 L470.2,1016.8 L471.2,1016.8 L472.2,1016.8 L473.2,1016.8 L474.2,1016.8 L475.2,1016.8 L476.2,1016.8 L477.2,1016.8 L478.2,1016.8 L479.2,1016.8 L480.2,1016.8 L481.2,1016.8 L482.2,1016.9 L483.2,1016.9 L484.2,1016.9 L485.2,1016.9 L486.2,1016.9 L487.2,1016.9 L488.2,1016.9 L489.2,1016.9 L490.2,1016.9 L491.2,1016.9 L492.2,1016.9 L493.2,1016.9 L494.2,1016.9 L495.2,1016.9 L496.2,1016.9 L497.2,1016.9 L498.2,1016.9 L499.2,1016.9 L500.2,1016.9 L501.2,1016.9 L502.2,1016.9 L503.2,1016.9 L504.2,1016.9 L505.2,1016.9 L506.2,1016.9 L507.2,1016.9 L508.2,1016.9 L509.2,1016.9 L510.2,1016.9 L511.2,1016.9 L512.2,1016.9 L513.2,1016.9 L514.2,1016.9 L515.2,1016.9 L516.2,1016.9 L517.2,1016.9 L518.2,1016.9 L519.2,1016.9 L520.2,1016.9 L521.2,1016.9 L522.2,1016.9 L523.2,1016.9 L524.2,1016.9 L525.2,1016.9 L526.2,1016.9 L527.2,1016.9 L528.2,1016.9 L529.2,1016.9 L530.2,1016.9 L531.2,1016.9 L532.2,1016.9 L533.2,1016.9 L534.2,1016.9 L535.2,1016.9 L536.2,1016.9 L537.2,1016.9 L538.2,1016.9 L539.2,1016.9 L540.2,1016.9 L541.2,1016.9 L542.2,1016.9 L543.2,1016.9 L544.2,1016.9 L545.2,1016.9 L546.2,1016.9 L547.2,1016.9 L548.2,1016.9 L549.2,1016.9 L550.2,1016.9 L551.2,1016.9 L552.2,1016.9 L553.2,1016.9 L554.2,1016.9 L555.2,1016.9 L556.2,1016.9 L557.2,1016.9 L558.2,1016.9 L559.2,1016.9 L560.2,1016.9 L561.2,1016.9 L562.2,1016.9 L563.2,1016.9 L564.2,1016.9 L565.2,1016.9 L566.2,1016.9 L567.2,1016.9 L568.2,1016.9 L569.2,1016.9 L570.2,1016.9 L571.2,1016.9 L572.2,1016.9 L573.2,1016.9 L574.2,1016.9 L575.2,1016.9 L576.2,1016.9 L577.2,1016.9 L578.2,1016.9 L579.2,1016.9 L580.2,1016.9 L581.2,1016.9 L582.2,1016.9 L583.2,1016.9 L584.2,1016.9 L585.2,1016.9" fill="none" stroke="#ff0000" stroke-width="2.4" stroke-linejoin="round"/>
</g>
<rect x="101.20" y="704.60" width="484.40" height="338.90" fill="none" stroke="#141414" stroke-width="1.7"/>
<line x1="93.70" y1="1016.90" x2="101.20" y2="1016.90" stroke="#141414" stroke-width="1.7" />
<text x="88.96" y="1024.50" font-size="26.5" text-anchor="end" font-weight="normal" fill="#000" >0.0</text>
<line x1="97.70" y1="964.90" x2="101.20" y2="964.90" stroke="#141414" stroke-width="1.7" />
<line x1="93.70" y1="912.90" x2="101.20" y2="912.90" stroke="#141414" stroke-width="1.7" />
<text x="88.71" y="920.50" font-size="26.5" text-anchor="end" font-weight="normal" fill="#000" >0.4</text>
<line x1="97.70" y1="860.90" x2="101.20" y2="860.90" stroke="#141414" stroke-width="1.7" />
<line x1="93.70" y1="808.90" x2="101.20" y2="808.90" stroke="#141414" stroke-width="1.7" />
<text x="89.09" y="816.50" font-size="26.5" text-anchor="end" font-weight="normal" fill="#000" >0.8</text>
<line x1="97.70" y1="756.90" x2="101.20" y2="756.90" stroke="#141414" stroke-width="1.7" />
<line x1="93.70" y1="704.90" x2="101.20" y2="704.90" stroke="#141414" stroke-width="1.7" />
<text x="89.34" y="712.50" font-size="26.5" text-anchor="end" font-weight="normal" fill="#000" >1.2</text>
<line x1="101.20" y1="1043.50" x2="101.20" y2="1050.50" stroke="#141414" stroke-width="1.7" />
<text x="99.54" y="1076.40" font-size="26.5" text-anchor="middle" font-weight="normal" fill="#000" >-2</text>
<line x1="161.75" y1="1043.50" x2="161.75" y2="1047.00" stroke="#141414" stroke-width="1.7" />
<line x1="222.30" y1="1043.50" x2="222.30" y2="1050.50" stroke="#141414" stroke-width="1.7" />
<text x="218.93" y="1076.40" font-size="26.5" text-anchor="middle" font-weight="normal" fill="#000" >-1</text>
<line x1="282.85" y1="1043.50" x2="282.85" y2="1047.00" stroke="#141414" stroke-width="1.7" />
<line x1="343.40" y1="1043.50" x2="343.40" y2="1050.50" stroke="#141414" stroke-width="1.7" />
<text x="342.59" y="1076.40" font-size="26.5" text-anchor="middle" font-weight="normal" fill="#000" >0</text>
<line x1="403.95" y1="1043.50" x2="403.95" y2="1047.00" stroke="#141414" stroke-width="1.7" />
<line x1="464.50" y1="1043.50" x2="464.50" y2="1050.50" stroke="#141414" stroke-width="1.7" />
<text x="463.52" y="1076.40" font-size="26.5" text-anchor="middle" font-weight="normal" fill="#000" >1</text>
<line x1="525.05" y1="1043.50" x2="525.05" y2="1047.00" stroke="#141414" stroke-width="1.7" />
<line x1="585.60" y1="1043.50" x2="585.60" y2="1050.50" stroke="#141414" stroke-width="1.7" />
<text x="584.29" y="1076.40" font-size="26.5" text-anchor="middle" font-weight="normal" fill="#000" >2</text>
<use href="#ball" x="129.60" y="49.90"/>
<text x="158.50" y="55.30" font-size="25" text-anchor="start" font-weight="normal" fill="#000" >Experimental Data</text>
<line x1="106.90" y1="80.10" x2="152.50" y2="80.10" stroke="#ff0000" stroke-width="2.6" />
<text x="161.47" y="86.60" font-size="25" text-anchor="start" font-weight="normal" fill="#000" >Sech<tspan font-size="18.5" dy="-11.7" dx="-1.5">2</tspan><tspan dy="11.7"> fit</tspan></text>
<text x="132.85" y="237.50" font-size="25" text-anchor="start" font-weight="normal" fill="#000" >Δt = ~454 fs</text>
<text x="455.35" y="220.10" font-size="25" text-anchor="start" font-weight="normal" fill="#000" >2 min</text>
<use href="#ball" x="132.40" y="387.30"/>
<text x="159.60" y="391.40" font-size="25" text-anchor="start" font-weight="normal" fill="#000" >Experimental Data</text>
<line x1="113.40" y1="413.60" x2="152.50" y2="413.60" stroke="#ff0000" stroke-width="2.6" />
<text x="160.47" y="420.70" font-size="25" text-anchor="start" font-weight="normal" fill="#000" >Sech<tspan font-size="18.5" dy="-11.7" dx="-1.5">2</tspan><tspan dy="11.7"> fit</tspan></text>
<text x="132.85" y="589.10" font-size="25" text-anchor="start" font-weight="normal" fill="#000" >Δt = ~340 fs</text>
<text x="454.70" y="590.00" font-size="25" text-anchor="start" font-weight="normal" fill="#000" >3 min</text>
<use href="#ball" x="133.00" y="728.10"/>
<text x="160.60" y="733.10" font-size="25" text-anchor="start" font-weight="normal" fill="#000" >Experimental Data</text>
<line x1="113.40" y1="760.60" x2="152.50" y2="760.60" stroke="#ff0000" stroke-width="2.6" />
<text x="160.88" y="770.20" font-size="25" text-anchor="start" font-weight="normal" fill="#000" >Sech<tspan font-size="18.5" dy="-11.7" dx="-1.5">2</tspan><tspan dy="11.7"> fit</tspan></text>
<text x="133.95" y="933.80" font-size="25" text-anchor="start" font-weight="normal" fill="#000" >Δt = ~266 fs</text>
<text x="459.70" y="921.40" font-size="25" text-anchor="start" font-weight="normal" fill="#000" >5 min</text>
<text x="223.25" y="1106.90" font-size="34.5" text-anchor="start" font-weight="normal" fill="#000" >Time delay (ps)</text>
<text transform="translate(28.00,642.33) rotate(-90)" font-size="34.2" fill="#000">Intensity (a.u.)</text>
<text x="17.57" y="23.30" font-size="38" text-anchor="start" font-weight="bold" fill="#000" >a</text>
<line x1="716.50" y1="28.30" x2="1200.80" y2="28.30" stroke="#141414" stroke-width="1.7" />
<line x1="721.00" y1="27.40" x2="721.00" y2="493.40" stroke="#141414" stroke-width="1.7" />
<line x1="1197.60" y1="27.40" x2="1197.60" y2="497.70" stroke="#141414" stroke-width="1.7" />
<line x1="712.50" y1="493.40" x2="1205.80" y2="493.40" stroke="#141414" stroke-width="1.7" />
<line x1="712.50" y1="493.30" x2="721.00" y2="493.30" stroke="#141414" stroke-width="1.7" />
<text x="706.65" y="499.90" font-size="26" text-anchor="end" font-weight="normal" fill="#000" >5.5</text>
<line x1="717.00" y1="457.65" x2="721.00" y2="457.65" stroke="#141414" stroke-width="1.7" />
<line x1="712.50" y1="422.00" x2="721.00" y2="422.00" stroke="#141414" stroke-width="1.7" />
<text x="706.52" y="428.60" font-size="26" text-anchor="end" font-weight="normal" fill="#000" >6.0</text>
<line x1="717.00" y1="386.35" x2="721.00" y2="386.35" stroke="#141414" stroke-width="1.7" />
<line x1="712.50" y1="350.70" x2="721.00" y2="350.70" stroke="#141414" stroke-width="1.7" />
<text x="706.65" y="357.30" font-size="26" text-anchor="end" font-weight="normal" fill="#000" >6.5</text>
<line x1="717.00" y1="315.05" x2="721.00" y2="315.05" stroke="#141414" stroke-width="1.7" />
<line x1="712.50" y1="279.40" x2="721.00" y2="279.40" stroke="#141414" stroke-width="1.7" />
<text x="706.52" y="286.00" font-size="26" text-anchor="end" font-weight="normal" fill="#000" >7.0</text>
<line x1="717.00" y1="243.75" x2="721.00" y2="243.75" stroke="#141414" stroke-width="1.7" />
<line x1="712.50" y1="208.10" x2="721.00" y2="208.10" stroke="#141414" stroke-width="1.7" />
<text x="706.65" y="214.70" font-size="26" text-anchor="end" font-weight="normal" fill="#000" >7.5</text>
<line x1="717.00" y1="172.45" x2="721.00" y2="172.45" stroke="#141414" stroke-width="1.7" />
<line x1="712.50" y1="136.80" x2="721.00" y2="136.80" stroke="#141414" stroke-width="1.7" />
<text x="706.52" y="143.40" font-size="26" text-anchor="end" font-weight="normal" fill="#000" >8.0</text>
<line x1="717.00" y1="101.15" x2="721.00" y2="101.15" stroke="#141414" stroke-width="1.7" />
<line x1="712.50" y1="65.50" x2="721.00" y2="65.50" stroke="#141414" stroke-width="1.7" />
<text x="706.65" y="72.10" font-size="26" text-anchor="end" font-weight="normal" fill="#000" >8.5</text>
<line x1="1197.60" y1="493.60" x2="1205.80" y2="493.60" stroke="#141414" stroke-width="1.7" />
<text x="1209.70" y="500.60" font-size="26" text-anchor="start" font-weight="normal" fill="#000" >300</text>
<line x1="1197.60" y1="441.98" x2="1201.10" y2="441.98" stroke="#141414" stroke-width="1.7" />
<line x1="1197.60" y1="390.35" x2="1205.80" y2="390.35" stroke="#141414" stroke-width="1.7" />
<text x="1210.08" y="397.35" font-size="26" text-anchor="start" font-weight="normal" fill="#000" >400</text>
<line x1="1197.60" y1="338.73" x2="1201.10" y2="338.73" stroke="#141414" stroke-width="1.7" />
<line x1="1197.60" y1="287.10" x2="1205.80" y2="287.10" stroke="#141414" stroke-width="1.7" />
<text x="1209.70" y="294.10" font-size="26" text-anchor="start" font-weight="normal" fill="#000" >500</text>
<line x1="1197.60" y1="235.48" x2="1201.10" y2="235.48" stroke="#141414" stroke-width="1.7" />
<line x1="1197.60" y1="183.85" x2="1205.80" y2="183.85" stroke="#141414" stroke-width="1.7" />
<text x="1209.45" y="190.85" font-size="26" text-anchor="start" font-weight="normal" fill="#000" >600</text>
<line x1="1197.60" y1="132.23" x2="1201.10" y2="132.23" stroke="#141414" stroke-width="1.7" />
<line x1="1197.60" y1="80.60" x2="1205.80" y2="80.60" stroke="#141414" stroke-width="1.7" />
<text x="1209.33" y="87.60" font-size="26" text-anchor="start" font-weight="normal" fill="#000" >700</text>
<line x1="1197.60" y1="28.98" x2="1201.10" y2="28.98" stroke="#141414" stroke-width="1.7" />
<line x1="720.27" y1="493.40" x2="720.27" y2="497.60" stroke="#141414" stroke-width="1.7" />
<line x1="760.00" y1="493.40" x2="760.00" y2="501.90" stroke="#141414" stroke-width="1.7" />
<text x="758.99" y="525.80" font-size="26.5" text-anchor="middle" font-weight="normal" fill="#000" >0</text>
<line x1="799.73" y1="493.40" x2="799.73" y2="497.60" stroke="#141414" stroke-width="1.7" />
<line x1="839.45" y1="493.40" x2="839.45" y2="501.90" stroke="#141414" stroke-width="1.7" />
<text x="838.07" y="525.80" font-size="26.5" text-anchor="middle" font-weight="normal" fill="#000" >1</text>
<line x1="879.17" y1="493.40" x2="879.17" y2="497.60" stroke="#141414" stroke-width="1.7" />
<line x1="918.90" y1="493.40" x2="918.90" y2="501.90" stroke="#141414" stroke-width="1.7" />
<text x="917.89" y="525.80" font-size="26.5" text-anchor="middle" font-weight="normal" fill="#000" >2</text>
<line x1="958.62" y1="493.40" x2="958.62" y2="497.60" stroke="#141414" stroke-width="1.7" />
<line x1="998.35" y1="493.40" x2="998.35" y2="501.90" stroke="#141414" stroke-width="1.7" />
<text x="997.41" y="525.80" font-size="26.5" text-anchor="middle" font-weight="normal" fill="#000" >3</text>
<line x1="1038.08" y1="493.40" x2="1038.08" y2="497.60" stroke="#141414" stroke-width="1.7" />
<line x1="1077.80" y1="493.40" x2="1077.80" y2="501.90" stroke="#141414" stroke-width="1.7" />
<text x="1076.86" y="525.80" font-size="26.5" text-anchor="middle" font-weight="normal" fill="#000" >4</text>
<line x1="1117.53" y1="493.40" x2="1117.53" y2="497.60" stroke="#141414" stroke-width="1.7" />
<line x1="1157.25" y1="493.40" x2="1157.25" y2="501.90" stroke="#141414" stroke-width="1.7" />
<text x="1156.24" y="525.80" font-size="26.5" text-anchor="middle" font-weight="normal" fill="#000" >5</text>
<line x1="1196.97" y1="493.40" x2="1196.97" y2="497.60" stroke="#141414" stroke-width="1.7" />
<circle cx="760.0" cy="450.6" r="7.6" fill="#dc1c44"/>
<circle cx="918.9" cy="322.1" r="7.6" fill="#dc1c44"/>
<circle cx="998.2" cy="207.8" r="7.6" fill="#dc1c44"/>
<circle cx="1157.5" cy="73.0" r="7.6" fill="#dc1c44"/>
<circle cx="760.0" cy="368.6" r="7.6" fill="#2b72d8"/>
<circle cx="918.7" cy="265.8" r="7.6" fill="#2b72d8"/>
<circle cx="998.5" cy="188.5" r="7.6" fill="#2b72d8"/>
<circle cx="1157.5" cy="116.7" r="7.6" fill="#2b72d8"/>
<circle cx="803.6" cy="78.3" r="7.8" fill="#dc1c44"/>
<circle cx="802.8" cy="122.1" r="7.8" fill="#2b72d8"/>
<text x="835.10" y="86.00" font-size="25" text-anchor="start" font-weight="normal" fill="#000" >Threshold pump power</text>
<text x="836.70" y="127.90" font-size="25" text-anchor="start" font-weight="normal" fill="#000" >Maximum output power</text>
<line x1="906.40" y1="322.40" x2="795.00" y2="322.40" stroke="#ff1a1a" stroke-width="1.6" />
<polygon points="784.2,322.4 797.5,317.9 797.5,326.9" fill="#ff1a1a"/>
<line x1="1022.60" y1="186.10" x2="1134.00" y2="186.10" stroke="#2060e8" stroke-width="1.6" />
<polygon points="1145,186.1 1131.8,181.6 1131.8,190.6" fill="#2060e8"/>
<text x="809.67" y="557.70" font-size="34.17" text-anchor="start" font-weight="normal" fill="#000" >Irradiation time (min)</text>
<text transform="translate(640.00,467.35) rotate(-90)" font-size="34.15" fill="#000">Threshold pump power (W)</text>
<text transform="translate(1287.50,481.45) rotate(-90)" font-size="34.08" fill="#000">Maximum output power (mW)</text>
<text x="620.30" y="29.60" font-size="38" text-anchor="start" font-weight="bold" fill="#000" >b</text>
<polygon points="739.3,590.6 813.2,590.6 793.4,608.4 1197.6,1008.2 1160.6,1044.5 757.8,644.3 739.3,665.0" fill="#c9d5e7" stroke="#a7b9d8" stroke-width="2.0" stroke-linejoin="miter"/>
<line x1="719.40" y1="588.00" x2="1194.80" y2="588.00" stroke="#141414" stroke-width="1.7" />
<line x1="719.40" y1="587.10" x2="719.40" y2="1052.30" stroke="#141414" stroke-width="1.7" />
<line x1="1194.80" y1="587.10" x2="1194.80" y2="1052.30" stroke="#141414" stroke-width="1.7" />
<line x1="719.40" y1="1051.40" x2="1194.80" y2="1051.40" stroke="#141414" stroke-width="1.7" />
<line x1="715.90" y1="1004.03" x2="719.40" y2="1004.03" stroke="#141414" stroke-width="1.7" />
<line x1="711.20" y1="952.00" x2="719.40" y2="952.00" stroke="#141414" stroke-width="1.7" />
<text x="705.71" y="959.10" font-size="26" text-anchor="end" font-weight="normal" fill="#000" >200</text>
<line x1="715.90" y1="899.97" x2="719.40" y2="899.97" stroke="#141414" stroke-width="1.7" />
<line x1="711.20" y1="847.94" x2="719.40" y2="847.94" stroke="#141414" stroke-width="1.7" />
<text x="705.71" y="855.04" font-size="26" text-anchor="end" font-weight="normal" fill="#000" >400</text>
<line x1="715.90" y1="795.91" x2="719.40" y2="795.91" stroke="#141414" stroke-width="1.7" />
<line x1="711.20" y1="743.88" x2="719.40" y2="743.88" stroke="#141414" stroke-width="1.7" />
<text x="705.71" y="750.98" font-size="26" text-anchor="end" font-weight="normal" fill="#000" >600</text>
<line x1="715.90" y1="691.85" x2="719.40" y2="691.85" stroke="#141414" stroke-width="1.7" />
<line x1="711.20" y1="639.82" x2="719.40" y2="639.82" stroke="#141414" stroke-width="1.7" />
<text x="705.71" y="646.92" font-size="26" text-anchor="end" font-weight="normal" fill="#000" >800</text>
<line x1="715.90" y1="587.79" x2="719.40" y2="587.79" stroke="#141414" stroke-width="1.7" />
<line x1="768.12" y1="1051.40" x2="768.12" y2="1054.90" stroke="#141414" stroke-width="1.7" />
<line x1="829.10" y1="1051.40" x2="829.10" y2="1058.90" stroke="#141414" stroke-width="1.7" />
<text x="828.38" y="1082.80" font-size="26" text-anchor="middle" font-weight="normal" fill="#000" >200</text>
<line x1="890.08" y1="1051.40" x2="890.08" y2="1054.90" stroke="#141414" stroke-width="1.7" />
<line x1="951.06" y1="1051.40" x2="951.06" y2="1058.90" stroke="#141414" stroke-width="1.7" />
<text x="950.65" y="1082.80" font-size="26" text-anchor="middle" font-weight="normal" fill="#000" >400</text>
<line x1="1012.04" y1="1051.40" x2="1012.04" y2="1054.90" stroke="#141414" stroke-width="1.7" />
<line x1="1073.02" y1="1051.40" x2="1073.02" y2="1058.90" stroke="#141414" stroke-width="1.7" />
<text x="1072.30" y="1082.80" font-size="26" text-anchor="middle" font-weight="normal" fill="#000" >600</text>
<line x1="1134.00" y1="1051.40" x2="1134.00" y2="1054.90" stroke="#141414" stroke-width="1.7" />
<line x1="1194.98" y1="1051.40" x2="1194.98" y2="1058.90" stroke="#141414" stroke-width="1.7" />
<text x="1194.32" y="1082.80" font-size="26" text-anchor="middle" font-weight="normal" fill="#000" >800</text>
<rect x="1092.40" y="633.20" width="13.8" height="13.8" fill="#008000"/>
<rect x="893.60" y="648.40" width="13.8" height="13.8" fill="#ff00ff"/>
<rect x="845.30" y="763.10" width="13.8" height="13.8" fill="#1adfe9"/>
<rect x="915.10" y="757.70" width="13.8" height="13.8" fill="#000080"/>
<rect x="884.80" y="773.20" width="13.8" height="13.8" fill="#800000"/>
<rect x="914.00" y="787.30" width="13.8" height="13.8" fill="#808000"/>
<rect x="897.30" y="867.60" width="13.8" height="13.8" fill="#ff0080"/>
<rect x="1149.70" y="908.20" width="13.8" height="13.8" fill="#2a6fdb"/>
<rect x="719.00" y="1035.70" width="13.8" height="13.8" fill="#008080"/>
<polygon points="869.90,695.50 873.50,705.85 884.45,706.07 875.72,712.69 878.89,723.18 869.90,716.92 860.91,723.18 864.08,712.69 855.35,706.07 866.30,705.85" fill="#dc1c44"/>
<line x1="917.00" y1="648.50" x2="986.40" y2="668.70" stroke="#1a1a1a" stroke-width="1.4" />
<polygon points="996.00,671.50 984.32,672.27 986.56,664.58" fill="#000"/>
<line x1="878.80" y1="782.30" x2="836.33" y2="810.47" stroke="#1a1a1a" stroke-width="1.4" />
<polygon points="828.00,816.00 834.96,806.59 839.38,813.25" fill="#000"/>
<line x1="936.20" y1="791.70" x2="978.16" y2="812.72" stroke="#1a1a1a" stroke-width="1.4" />
<polygon points="987.10,817.20 975.47,815.85 979.06,808.70" fill="#000"/>
<line x1="908.10" y1="881.30" x2="908.10" y2="908.80" stroke="#1a1a1a" stroke-width="1.4" />
<polygon points="908.10,918.30 904.50,907.80 911.70,907.80" fill="#000"/>
<line x1="1149.40" y1="921.20" x2="1114.69" y2="950.99" stroke="#1a1a1a" stroke-width="1.4" />
<polygon points="1107.10,957.50 1112.84,947.30 1118.05,953.37" fill="#000"/>
<line x1="740.00" y1="1036.50" x2="792.40" y2="1014.21" stroke="#1a1a1a" stroke-width="1.4" />
<polygon points="801.60,1010.30 793.04,1018.29 789.91,1010.92" fill="#000"/>
<text x="997.00" y="615.90" font-size="20.65" text-anchor="start" font-weight="normal" fill="#000" >Graphene Oxide[54]</text>
<text x="968.40" y="695.00" font-size="20.4" text-anchor="start" font-weight="normal" fill="#000" >Ti<tspan font-size="13.6" dy="4.1">3</tspan><tspan dy="-4.1" dx="0">C</tspan><tspan font-size="13.6" dy="4.1">2</tspan><tspan dy="-4.1" dx="0">T</tspan><tspan font-size="13.6" dy="4.1">x</tspan><tspan dy="-4.1" dx="3.2"> [50]</tspan></text>
<text x="736.30" y="774.30" font-size="20.4" text-anchor="start" font-weight="normal" fill="#000" >G/MoS<tspan font-size="13.6" dy="4.1">2</tspan><tspan dy="-4.1" dx="0">[10]</tspan></text>
<text x="946.62" y="768.50" font-size="20.4" text-anchor="start" font-weight="normal" fill="#000" >In<tspan font-size="13.6" dy="4.1">2</tspan><tspan dy="-4.1" dx="0">Se</tspan><tspan font-size="13.6" dy="4.1">3</tspan><tspan dy="-4.1" dx="-1.3"> [52]</tspan></text>
<text x="794.38" y="836.30" font-size="20.4" text-anchor="start" font-weight="normal" fill="#000" >NbS<tspan font-size="13.6" dy="4.1">2</tspan><tspan dy="-4.1" dx="0"> [53]</tspan></text>
<text x="973.62" y="837.20" font-size="20.4" text-anchor="start" font-weight="normal" fill="#000" >InAs NWs [51]</text>
<text x="873.67" y="942.00" font-size="20.4" text-anchor="start" font-weight="normal" fill="#000" >ReS<tspan font-size="13.6" dy="4.1">2</tspan><tspan dy="-4.1" dx="1.3"> [49]</tspan></text>
<text x="1080.58" y="977.70" font-size="20.4" text-anchor="start" font-weight="normal" fill="#000" >WS<tspan font-size="13.6" dy="4.1">2</tspan><tspan dy="-4.1" dx="2.0">[48]</tspan></text>
<text x="785.40" y="1001.90" font-size="20.2" text-anchor="start" font-weight="normal" fill="#000" >Graphene[47]</text>
<text transform="translate(741.33,682.7) scale(0.966,1)" font-size="23.6" font-weight="bold" fill="#ff0000">Bi<tspan font-size="16" dy="4.2">2</tspan><tspan dy="-4.2">O</tspan><tspan font-size="16" dy="4.2">2</tspan><tspan dy="-4.2">Se[This work]</tspan></text>
<text x="852.15" y="1119.50" font-size="34.25" text-anchor="start" font-weight="normal" fill="#000" >Pulse width (fs)</text>
<text transform="translate(640.90,955.12) rotate(-90)" font-size="34.33" fill="#000">Output power (mW)</text>
<text x="622.90" y="571.40" font-size="38" text-anchor="start" font-weight="bold" fill="#000" >c</text>
</svg>
</body></html>
